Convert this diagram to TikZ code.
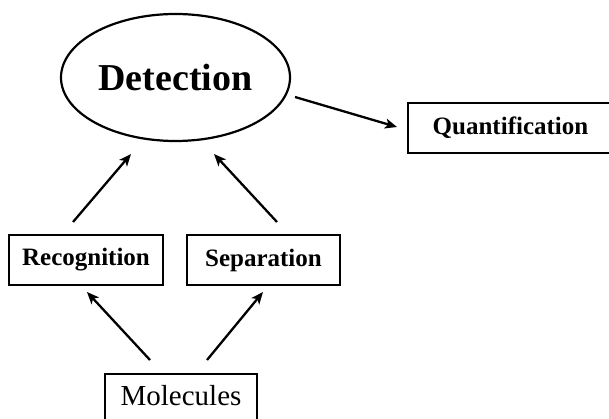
\documentclass[tikz,border=0pt]{standalone}
\usepackage{fontspec}
\setmainfont{Liberation Serif}
\usetikzlibrary{shapes.geometric,arrows.meta}

\begin{document}
\begin{tikzpicture}[x=1pt,y=-1pt]
  \tikzstyle{stage}=[draw,line width=1.5pt,rectangle,minimum height=50pt,inner sep=0pt,font=\fontsize{25}{27}\selectfont\bfseries]
  \tikzstyle{flow}=[line width=2.3pt,-{Stealth[length=12pt,width=10pt,inset=3pt]}]

  \useasboundingbox (0,0) rectangle (609,419);
  \clip (0,0) rectangle (609,419);

  \node[draw,ellipse,line width=2.2pt,minimum width=229pt,minimum height=127pt,inner sep=0pt,
        font=\fontsize{38}{40}\selectfont\bfseries] (det) at (175.5,77.5) {Detection};

  \node[stage,minimum width=205pt] (quant) at (510.5,128) {Quantification};

  \node[stage,minimum width=154pt] (rec) at (86,260) {Recognition};
  \node[stage,minimum width=153pt] (sep) at (263.5,260) {Separation};

  \node[draw,line width=1.5pt,minimum width=152pt,anchor=north,inner xsep=0pt,inner ysep=13pt,
        text height=19pt,text depth=12pt,font=\fontsize{29}{31}\selectfont] (mol) at (181,373) {Molecules};

  \coordinate (dq1) at (295,97);
  \coordinate (dq2) at (397,127);
  \coordinate (rd1) at (73,222);
  \coordinate (rd2) at (131,154);
  \coordinate (sd1) at (277,222);
  \coordinate (sd2) at (214,154);
  \coordinate (mr1) at (150,360);
  \coordinate (mr2) at (87,292);
  \coordinate (ms1) at (207,360);
  \coordinate (ms2) at (263,292);

  \draw[flow] (dq1) -- (dq2);
  \draw[flow] (rd1) -- (rd2);
  \draw[flow] (sd1) -- (sd2);
  \draw[flow] (mr1) -- (mr2);
  \draw[flow] (ms1) -- (ms2);
\end{tikzpicture}
\end{document}
